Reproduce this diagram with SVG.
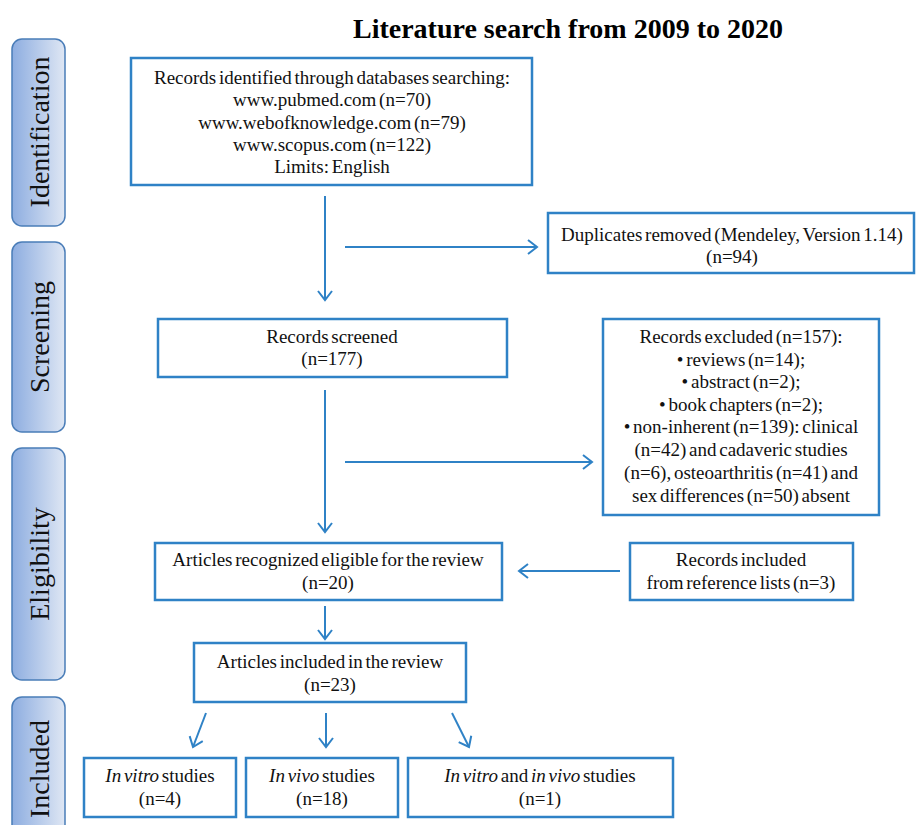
<svg xmlns="http://www.w3.org/2000/svg" width="917" height="825" viewBox="0 0 917 825" font-family="'Liberation Serif', 'Times New Roman', serif">
<style>
.box{fill:#fff;stroke:#2f82c6;stroke-width:2.5}
.side{stroke:#4a7db8;stroke-width:1.5;fill:url(#sideGrad)}
text{font-family:"Liberation Serif","Times New Roman",serif}
.lbl{font-size:19px;fill:#111;text-anchor:middle;word-spacing:-2px}
.st{font-size:28px;fill:#111;text-anchor:middle}
.title{font-size:28px;font-weight:bold;fill:#000;text-anchor:middle}
.c{stroke:#2f82c6;stroke-width:2;fill:none;marker-end:url(#arr)}
.it{font-style:italic}
</style>
<defs>
<linearGradient id="sideGrad" x1="0" y1="0" x2="1" y2="0">
<stop offset="0" stop-color="#8dade0"/>
<stop offset="1" stop-color="#dfe7f4"/>
</linearGradient>
<marker id="arr" markerUnits="userSpaceOnUse" markerWidth="14" markerHeight="16" refX="10" refY="8" orient="auto">
<path d="M1,1 L10,8 L1,15" fill="none" stroke="#2f82c6" stroke-width="2"/>
</marker>
</defs>
<rect width="917" height="825" fill="#fff"/>
<text class="title" x="568" y="38">Literature search from 2009 to 2020</text>

<g id="side-identification">
<rect class="side" x="12" y="39" width="53" height="187" rx="10"/>
<text class="st" transform="translate(49,132) rotate(-90)">Identification</text>
</g>
<g id="side-screening">
<rect class="side" x="12" y="242" width="53" height="190" rx="10"/>
<text class="st" transform="translate(49,337) rotate(-90)">Screening</text>
</g>
<g id="side-eligibility">
<rect class="side" x="12" y="448" width="53" height="232" rx="10"/>
<text class="st" transform="translate(49,564) rotate(-90)">Eligibility</text>
</g>
<g id="side-included">
<rect class="side" x="12" y="697" width="53" height="150" rx="10"/>
<text class="st" transform="translate(49,769) rotate(-90)">Included</text>
</g>

<g id="identified">
<rect class="box" x="131" y="58" width="401" height="127"/>
<text class="lbl" x="332" y="84">Records identified through databases searching:</text>
<text class="lbl" x="332" y="106">www.pubmed.com (n=70)</text>
<text class="lbl" x="332" y="129">www.webofknowledge.com (n=79)</text>
<text class="lbl" x="332" y="151">www.scopus.com (n=122)</text>
<text class="lbl" x="332" y="173">Limits: English</text>
</g>
<g id="duplicates">
<rect class="box" x="548" y="213" width="366" height="60"/>
<text class="lbl" x="732" y="241">Duplicates removed (Mendeley, Version 1.14)</text>
<text class="lbl" x="732" y="263">(n=94)</text>
</g>
<g id="screened">
<rect class="box" x="158" y="319" width="349" height="58"/>
<text class="lbl" x="332" y="343">Records screened</text>
<text class="lbl" x="332" y="365">(n=177)</text>
</g>
<g id="excluded">
<rect class="box" x="603" y="319" width="276" height="196"/>
<text class="lbl" x="741" y="343">Records excluded (n=157):</text>
<text class="lbl" x="741" y="366">• reviews (n=14);</text>
<text class="lbl" x="741" y="388">• abstract (n=2);</text>
<text class="lbl" x="741" y="411">• book chapters (n=2);</text>
<text class="lbl" x="741" y="433">• non-inherent (n=139): clinical</text>
<text class="lbl" x="741" y="456">(n=42) and cadaveric studies</text>
<text class="lbl" x="741" y="479">(n=6), osteoarthritis (n=41) and</text>
<text class="lbl" x="741" y="502">sex differences (n=50) absent</text>
</g>
<g id="eligible">
<rect class="box" x="155" y="543" width="347" height="57"/>
<text class="lbl" x="328" y="566">Articles recognized eligible  for the review</text>
<text class="lbl" x="328" y="589">(n=20)</text>
</g>
<g id="reference">
<rect class="box" x="630" y="543" width="223" height="57"/>
<text class="lbl" x="741" y="566">Records included</text>
<text class="lbl" x="741" y="589">from reference lists (n=3)</text>
</g>
<g id="included">
<rect class="box" x="194" y="643" width="272" height="59"/>
<text class="lbl" x="330" y="668">Articles included in the review</text>
<text class="lbl" x="330" y="691">(n=23)</text>
</g>
<g id="invitro">
<rect class="box" x="84" y="758" width="152" height="59"/>
<text class="lbl" x="160" y="782"><tspan class="it">In vitro</tspan> studies</text>
<text class="lbl" x="160" y="805">(n=4)</text>
</g>
<g id="invivo">
<rect class="box" x="246" y="758" width="152" height="59"/>
<text class="lbl" x="322" y="782"><tspan class="it">In vivo</tspan> studies</text>
<text class="lbl" x="322" y="805">(n=18)</text>
</g>
<g id="both">
<rect class="box" x="408" y="758" width="265" height="59"/>
<text class="lbl" x="540" y="782"><tspan class="it">In vitro</tspan> and <tspan class="it">in vivo</tspan> studies</text>
<text class="lbl" x="540" y="805">(n=1)</text>
</g>

<g id="connectors">
<line class="c" x1="325" y1="196" x2="325" y2="300"/>
<line class="c" x1="345" y1="247" x2="537" y2="247"/>
<line class="c" x1="325" y1="390" x2="325" y2="532"/>
<line class="c" x1="345" y1="462" x2="592" y2="462"/>
<line class="c" x1="620" y1="571" x2="519" y2="571"/>
<line class="c" x1="325" y1="606" x2="325" y2="639"/>
<line class="c" x1="206" y1="713" x2="193" y2="747"/>
<line class="c" x1="326" y1="713" x2="326" y2="747"/>
<line class="c" x1="452" y1="713" x2="469" y2="747"/>
</g>
</svg>
